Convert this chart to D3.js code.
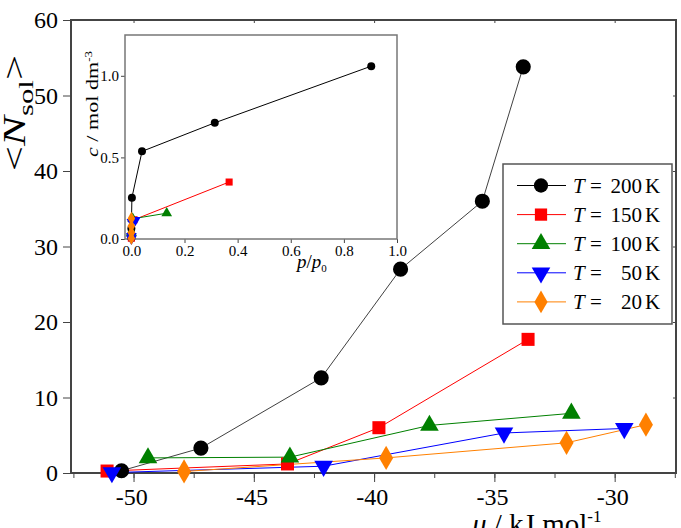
<!DOCTYPE html>
<html lang="en">
<head>
  <meta charset="UTF-8">
  <title>Mean number of solute molecules vs chemical potential</title>
  <script src="https://d3js.org/d3.v7.min.js"></script>
  <style>
    body { margin: 0; background: #fff; }
    .axis path, .axis line { stroke: #444; }
  </style>
</head>
<body>
  <div id="chart"></div>

  <script>
    // main plot data: chemical potential (kJ/mol) vs <N_sol>
    const mu200 = [-50.5, -47.2, -42.2, -38.9, -35.5, -33.8];
    const n200  = [0.3, 3.3, 12.6, 27.0, 36.0, 53.8];
    const mu150 = [-51.1, -43.6, -39.8, -33.6];
    const n150  = [0.26, 1.2, 6.0, 17.7];
    const mu100 = [-49.4, -43.5, -37.7, -31.8];
    const n100  = [2.0, 2.1, 6.3, 7.9];
    const mu50  = [-50.9, -42.1, -34.6, -29.6];
    const n50   = [0.05, 0.9, 5.3, 5.9];
    const mu20  = [-47.9, -39.5, -32.0, -28.7];
    const n20   = [0.2, 2.0, 4.0, 6.4];

    // inset data: p/p0 vs concentration
    const p200 = [0.0, 0.0, 0.002, 0.04, 0.314, 0.903];
    const c200 = [0.006, 0.065, 0.253, 0.537, 0.712, 1.059];
    const p150 = [0.0, 0.0, 0.01, 0.368];
    const c150 = [0.005, 0.024, 0.118, 0.349];
    const p100 = [0.0, 0.0, 0.005, 0.133];
    const c100 = [0.039, 0.041, 0.124, 0.158];
    const p50  = [0.0, 0.0, 0.002, 0.015];
    const c50  = [0.001, 0.018, 0.104, 0.116];
    const p20  = [0.0, 0.0, 0.0, 0.0];
    const c20  = [0.004, 0.039, 0.079, 0.126];

    const temps = ["200", "150", "100", "50", "20"];
    const xTicks = [-50, -45, -40, -35, -30];
    const yTicks = [0, 10, 20, 30, 40, 50, 60];
    const insetXTicks = [0, 0.2, 0.4, 0.6, 0.8, 1.0];
    const insetYTicks = [0, 0.5, 1.0];

    const FONT = "Liberation Serif";

    const series = [
      { t: "200", mu: mu200, n: n200, p: p200, c: c200, color: "#000000", sym: d3.symbolCircle },
      { t: "150", mu: mu150, n: n150, p: p150, c: c150, color: "#ff0000", sym: d3.symbolSquare },
      { t: "100", mu: mu100, n: n100, p: p100, c: c100, color: "#008000", sym: d3.symbolTriangle },
      { t: "50",  mu: mu50,  n: n50,  p: p50,  c: c50,  color: "#0000ff", sym: "down" },
      { t: "20",  mu: mu20,  n: n20,  p: p20,  c: c20,  color: "#ff8000", sym: d3.symbolDiamond }
    ];

    const W = 681, H = 528;
    const svg = d3.select("#chart").append("svg")
      .attr("width", W).attr("height", H);

    // main scales
    const x = d3.scaleLinear().domain([-52.6, -27.45]).range([71, 676]);
    const y = d3.scaleLinear().domain([0, 60]).range([473, 20]);

    function marker(g, s, size) {
      const type = s.sym === "down" ? d3.symbolTriangle : s.sym;
      const path = g.append("path")
        .attr("d", d3.symbol().type(type).size(size)())
        .attr("fill", s.color);
      if (s.sym === "down") path.attr("transform", "rotate(180)");
      return path;
    }

    function styleAxis(g, fs) {
      g.attr("font-family", null).attr("font-size", null);
      g.select(".domain").remove();
      g.selectAll("text").attr("font-size", fs).attr("fill", "#000");
    }

    // axes
    svg.append("g").attr("class", "axis")
      .attr("transform", "translate(0,473)")
      .call(d3.axisBottom(x).tickValues(d3.range(-52.5, -27.4, 2.5)).tickSize(5).tickFormat(""))
      .call(g => styleAxis(g, 24));
    svg.append("g").attr("class", "axis")
      .attr("transform", "translate(0,473)")
      .call(d3.axisBottom(x).tickValues(xTicks).tickSize(9).tickPadding(6).tickFormat(d => String(d)))
      .call(g => styleAxis(g, 24))
      .call(g => g.selectAll("text").attr("dx", "-0.1em"));
    svg.append("g").attr("class", "axis")
      .attr("transform", "translate(71,0)")
      .call(d3.axisLeft(y).tickValues(yTicks).tickSize(8).tickPadding(5).tickFormat(d => String(d)))
      .call(g => styleAxis(g, 24));
    // faint inner ticks on top and right
    svg.append("g").attr("class", "axis")
      .attr("transform", "translate(0,20)")
      .call(d3.axisBottom(x).tickValues(xTicks).tickSize(3).tickFormat(""))
      .call(g => styleAxis(g, 10))
      .call(g => g.selectAll("line").attr("stroke", "#999"));
    svg.append("g").attr("class", "axis")
      .attr("transform", "translate(676,0)")
      .call(d3.axisLeft(y).tickValues(yTicks).tickSize(3).tickFormat(""))
      .call(g => styleAxis(g, 10))
      .call(g => g.selectAll("line").attr("stroke", "#999"));

    svg.append("rect")
      .attr("x", 71).attr("y", 20).attr("width", 605).attr("height", 453)
      .attr("fill", "none").attr("stroke", "#444").attr("stroke-width", 2);

    // main series
    const line = d3.line().x(d => x(d[0])).y(d => y(d[1]));
    series.forEach(s => {
      const pts = s.mu.map((m, i) => [m, s.n[i]]);
      svg.append("path").attr("d", line(pts))
        .attr("fill", "none").attr("stroke", s.color).attr("stroke-width", 1)
        .attr("stroke-opacity", s.t === "200" ? 0.75 : 1);
    });
    series.forEach(s => {
      const size = s.sym === d3.symbolCircle ? 180 : (s.sym === d3.symbolSquare ? 170 : (s.sym === d3.symbolDiamond ? 170 : 150));
      s.mu.forEach((m, i) => {
        const g = svg.append("g").attr("transform", `translate(${x(m)},${y(s.n[i])})`);
        marker(g, s, size);
      });
    });

    // axis titles (the original is stretched along the text)
    const yl = svg.append("text")
      .attr("transform", "translate(25,113) rotate(-90) scale(1.4,1)")
      .attr("text-anchor", "middle")
      .attr("font-size", 32);
    yl.append("tspan").text("<");
    yl.append("tspan").attr("font-style", "italic").text("N");
    yl.append("tspan").attr("dy", 8).attr("font-size", 22).text("sol");
    yl.append("tspan").attr("dy", -8).text(">");

    const xl = svg.append("text")
      .attr("x", 472).attr("y", 534)
      .attr("font-size", 29);
    xl.append("tspan").attr("font-style", "italic").text("μ");
    xl.append("tspan").text(" / kJ mol");
    xl.append("tspan").attr("dy", -12).attr("font-size", 17).text("-1");

    // legend
    const lg = svg.append("g");
    lg.append("rect")
      .attr("x", 503).attr("y", 164).attr("width", 169).attr("height", 160)
      .attr("fill", "#fff").attr("stroke", "#555").attr("stroke-width", 1.5);
    series.forEach((s, i) => {
      const ly = 185.5 + i * 29.1;
      lg.append("line").attr("x1", 517).attr("x2", 566).attr("y1", ly).attr("y2", ly)
        .attr("stroke", s.color).attr("stroke-width", 1);
      const size = s.sym === d3.symbolCircle ? 160 : 150;
      marker(lg.append("g").attr("transform", `translate(541,${ly})`), s, size);
      const t = lg.append("text").attr("x", 573).attr("y", ly + 7).attr("font-size", 21);
      t.append("tspan").attr("font-style", "italic").text("T");
      t.append("tspan").text(" =");
      lg.append("text").attr("x", 642).attr("y", ly + 7).attr("text-anchor", "end")
        .attr("font-size", 21).text(temps[i]);
      lg.append("text").attr("x", 645).attr("y", ly + 7).attr("font-size", 21).text("K");
    });

    // inset
    const xi = d3.scaleLinear().domain([-0.024, 1.0]).range([125, 397]);
    const yi = d3.scaleLinear().domain([0, 1.25]).range([239, 35]);
    const ins = svg.append("g");
    ins.append("rect").attr("x", 125).attr("y", 35).attr("width", 272).attr("height", 204)
      .attr("fill", "#fff");
    ins.append("g").attr("class", "axis")
      .attr("transform", "translate(0,239)")
      .call(d3.axisBottom(xi).tickValues(insetXTicks).tickSize(4).tickPadding(2).tickFormat(d3.format(".1f")))
      .call(g => styleAxis(g, 15));
    ins.append("g").attr("class", "axis")
      .attr("transform", "translate(125,0)")
      .call(d3.axisLeft(yi).tickValues(insetYTicks).tickSize(4).tickPadding(2).tickFormat(d3.format(".1f")))
      .call(g => styleAxis(g, 15));
    ins.append("rect").attr("x", 125).attr("y", 35).attr("width", 272).attr("height", 204)
      .attr("fill", "none").attr("stroke", "#777").attr("stroke-width", 1.5);

    const iline = d3.line().x(d => xi(d[0])).y(d => yi(d[1]));
    series.forEach(s => {
      const pts = s.p.map((p, i) => [p, s.c[i]]);
      ins.append("path").attr("d", iline(pts))
        .attr("fill", "none").attr("stroke", s.color).attr("stroke-width", 1);
      pts.forEach(d => {
        marker(ins.append("g").attr("transform", `translate(${xi(d[0])},${yi(d[1])})`), s, 50);
      });
    });

    const il = ins.append("text")
      .attr("transform", "translate(98,104) rotate(-90) scale(1.3,1)")
      .attr("text-anchor", "middle")
      .attr("font-size", 17);
    il.append("tspan").attr("font-style", "italic").text("c");
    il.append("tspan").text(" / mol dm");
    il.append("tspan").attr("dy", -6).attr("font-size", 10).text("-3");

    const pl = ins.append("text").attr("x", 297).attr("y", 268).attr("font-size", 19);
    pl.append("tspan").attr("font-style", "italic").text("p");
    pl.append("tspan").text("/");
    pl.append("tspan").attr("font-style", "italic").text("p");
    pl.append("tspan").attr("dy", 4).attr("font-size", 11).text("0");

    // serif type everywhere
    svg.selectAll("text").attr("font-family", FONT);
  </script>
</body>
</html>
